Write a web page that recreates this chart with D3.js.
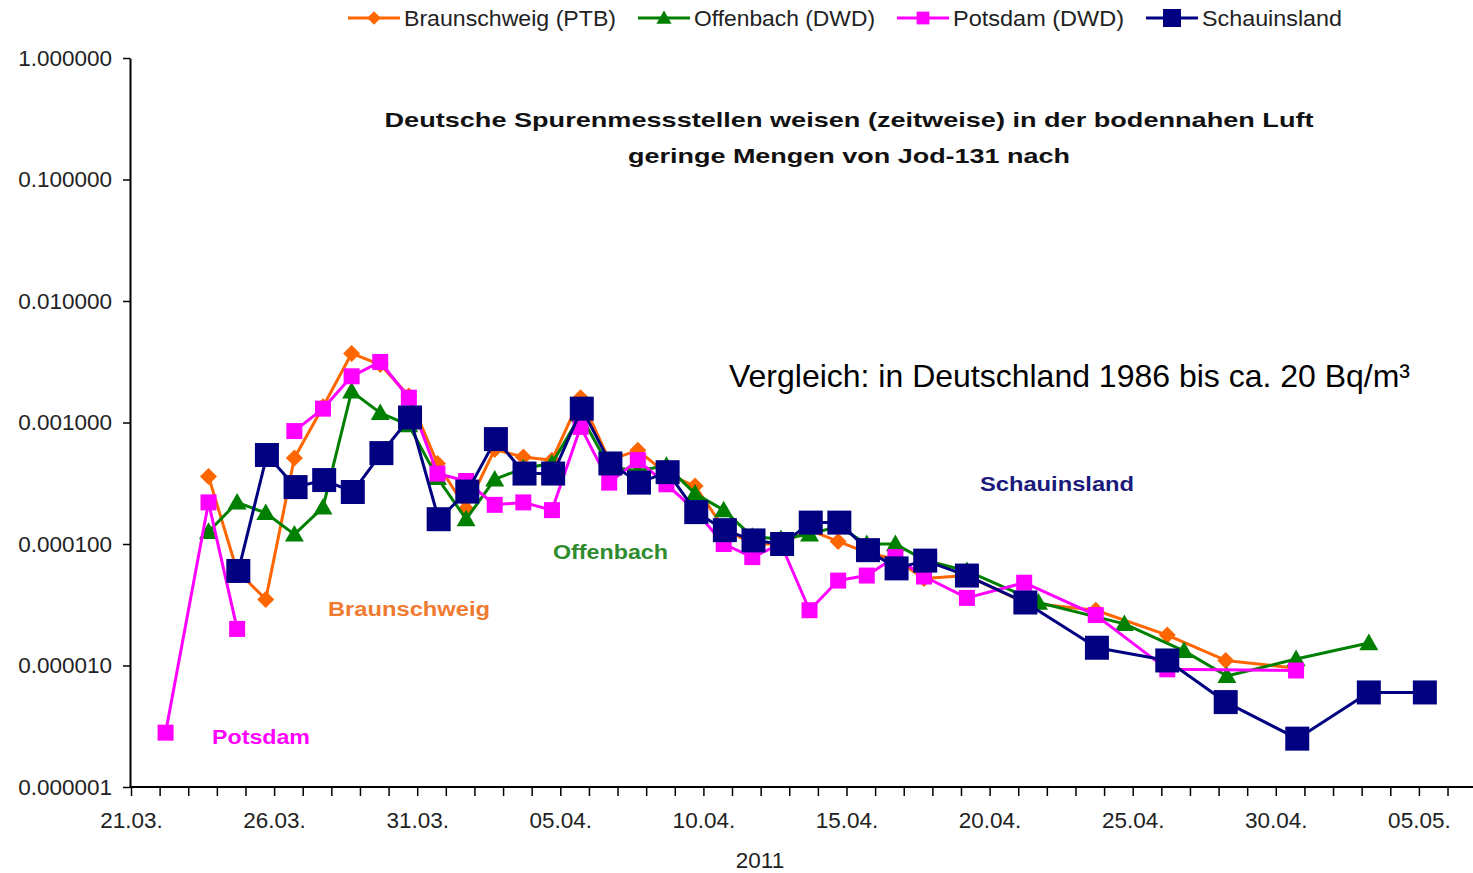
<!DOCTYPE html>
<html>
<head>
<meta charset="utf-8">
<title>Jod-131</title>
<script src="https://d3js.org/d3.v7.min.js"></script>
<style>
body { margin: 0; background: #fff; }
text { font-family: Arial, "Liberation Sans", sans-serif; }
</style>
</head>
<body>
<script>

var width = 1473
var height = 873

var names = ["Braunschweig (PTB)", "Offenbach (DWD)", "Potsdam (DWD)", "Schauinsland"]
var colors = ["#ff6600", "#008000", "#ff00ff", "#000080"]
var shapes = ["diamond", "triangle", "square", "bigsquare"]

var braunschweigDates = ["2011-03-23 17:00", "2011-03-24 17:00", "2011-03-25 17:00", "2011-03-26 17:00", "2011-03-27 17:00",
	"2011-03-28 17:00", "2011-03-29 17:00", "2011-03-30 17:00", "2011-03-31 17:00", "2011-04-01 17:00",
	"2011-04-02 17:00", "2011-04-03 17:00", "2011-04-04 17:00", "2011-04-05 17:00", "2011-04-06 17:00",
	"2011-04-07 17:00", "2011-04-08 17:00", "2011-04-09 17:00", "2011-04-10 17:00", "2011-04-11 17:00",
	"2011-04-12 17:00", "2011-04-13 17:00", "2011-04-14 17:00", "2011-04-15 17:00", "2011-04-16 17:00",
	"2011-04-17 17:00", "2011-04-19 05:00", "2011-04-21 05:00", "2011-04-23 17:00", "2011-04-26 05:00",
	"2011-04-28 06:00", "2011-04-30 17:00"]
var braunschweigValues = [3.6e-4, 6.0e-5, 3.5e-5, 5.1e-4, 1.35e-3,
	3.7e-3, 3.0e-3, 1.65e-3, 4.6e-4, 1.95e-4,
	6.0e-4, 5.2e-4, 4.9e-4, 1.6e-3, 4.9e-4,
	5.9e-4, 3.8e-4, 3.0e-4, 1.35e-4, 1.0e-4,
	1.0e-4, 1.3e-4, 1.05e-4, 8.5e-5, 7.5e-5,
	5.2e-5, 5.5e-5, 3.3e-5, 2.85e-5, 1.78e-5,
	1.1e-5, 9.5e-6]

var offenbachDates = ["2011-03-23 17:00", "2011-03-24 17:00", "2011-03-25 17:00", "2011-03-26 17:00", "2011-03-27 17:00",
	"2011-03-28 17:00", "2011-03-29 17:00", "2011-03-30 17:00", "2011-03-31 17:00", "2011-04-01 17:00",
	"2011-04-02 17:00", "2011-04-03 17:00", "2011-04-04 17:00", "2011-04-05 17:00", "2011-04-06 17:00",
	"2011-04-07 17:00", "2011-04-08 17:00", "2011-04-09 17:00", "2011-04-10 17:00", "2011-04-11 17:00",
	"2011-04-12 17:00", "2011-04-13 17:00", "2011-04-14 17:00", "2011-04-15 17:00", "2011-04-16 17:00",
	"2011-04-17 17:00", "2011-04-19 05:00", "2011-04-21 17:00", "2011-04-24 17:00", "2011-04-26 19:00",
	"2011-04-28 07:00", "2011-04-30 17:00", "2011-05-03 06:00"]
var offenbachValues = [1.26e-4, 2.2e-4, 1.8e-4, 1.2e-4, 2.0e-4,
	1.8e-3, 1.2e-3, 9.5e-4, 3.5e-4, 1.6e-4,
	3.4e-4, 4.2e-4, 4.6e-4, 1.15e-3, 4.3e-4,
	4.0e-4, 4.4e-4, 2.6e-4, 1.9e-4, 1.15e-4,
	1.1e-4, 1.2e-4, 1.4e-4, 1.0e-4, 1.0e-4,
	7.4e-5, 6.0e-5, 3.3e-5, 2.2e-5, 1.32e-5,
	8.2e-6, 1.13e-5, 1.53e-5]

var potsdamDates = ["2011-03-22 05:00", "2011-03-23 17:00", "2011-03-24 17:00", "2011-03-25 17:00", "2011-03-26 17:00",
	"2011-03-27 17:00", "2011-03-28 17:00", "2011-03-29 17:00", "2011-03-30 17:00", "2011-03-31 17:00",
	"2011-04-01 17:00", "2011-04-02 17:00", "2011-04-03 17:00", "2011-04-04 17:00", "2011-04-05 17:00",
	"2011-04-06 17:00", "2011-04-07 17:00", "2011-04-08 17:00", "2011-04-09 17:00", "2011-04-10 17:00",
	"2011-04-11 17:00", "2011-04-12 17:00", "2011-04-13 17:00", "2011-04-14 17:00", "2011-04-15 17:00",
	"2011-04-16 17:00", "2011-04-17 17:00", "2011-04-19 05:00", "2011-04-21 05:00", "2011-04-23 17:00",
	"2011-04-26 05:00", "2011-04-30 17:00"]
var potsdamValues = [2.8e-6, 2.2e-4, 2.0e-5, null, 8.5e-4,
	1.3e-3, 2.4e-3, 3.15e-3, 1.6e-3, 3.8e-4,
	3.3e-4, 2.1e-4, 2.2e-4, 1.9e-4, 9.2e-4,
	3.2e-4, 4.9e-4, 3.1e-4, 1.9e-4, 1.0e-4,
	7.8e-5, 1.0e-4, 2.85e-5, 5.0e-5, 5.5e-5,
	7.8e-5, 5.4e-5, 3.6e-5, 4.8e-5, 2.6e-5,
	9.3e-6, 9.1e-6]

var schauinslandDates = ["2011-03-24 18:00", "2011-03-25 18:00", "2011-03-26 18:00", "2011-03-27 18:00", "2011-03-28 18:00",
	"2011-03-29 18:00", "2011-03-30 18:00", "2011-03-31 18:00", "2011-04-01 18:00", "2011-04-02 18:00",
	"2011-04-03 18:00", "2011-04-04 18:00", "2011-04-05 18:00", "2011-04-06 18:00", "2011-04-07 18:00",
	"2011-04-08 18:00", "2011-04-09 18:00", "2011-04-10 18:00", "2011-04-11 18:00", "2011-04-12 18:00",
	"2011-04-13 18:00", "2011-04-14 18:00", "2011-04-15 18:00", "2011-04-16 18:00", "2011-04-17 18:00",
	"2011-04-19 05:00", "2011-04-21 06:00", "2011-04-23 18:00", "2011-04-26 05:00", "2011-04-28 06:00",
	"2011-04-30 18:00", "2011-05-03 06:00", "2011-05-05 05:00"]
var schauinslandValues = [6.0e-5, 5.4e-4, 2.94e-4, 3.36e-4, 2.68e-4,
	5.6e-4, 1.1e-3, 1.6e-4, 2.7e-4, 7.3e-4,
	3.8e-4, 3.8e-4, 1.3e-3, 4.6e-4, 3.2e-4,
	3.9e-4, 1.83e-4, 1.3e-4, 1.07e-4, 1.0e-4,
	1.5e-4, 1.5e-4, 8.9e-5, 6.3e-5, 7.3e-5,
	5.5e-5, 3.3e-5, 1.4e-5, 1.1e-5, 5.0e-6,
	2.5e-6, 6.0e-6, 6.0e-6]

var yTicks = [1, 0.1, 0.01, 0.001, 0.0001, 0.00001, 0.000001]
var xStart = "2011-03-21 00:00"
var xEnd = "2011-05-07 00:00"

var titleLines = ["Deutsche Spurenmessstellen weisen (zeitweise) in der bodennahen Luft", "geringe Mengen von Jod-131 nach"]
var comparisonText = "Vergleich: in Deutschland 1986 bis ca. 20 Bq/m³"
var labelNames = ["Braunschweig", "Offenbach", "Potsdam", "Schauinsland"]
var labelColors = ["#f07a30", "#2e8b2e", "#ff00ff", "#1a1a7a"]
var yearLabel = "2011"

var parse = d3.timeParse("%Y-%m-%d %H:%M")

var series = [
	{dates: braunschweigDates, values: braunschweigValues},
	{dates: offenbachDates, values: offenbachValues},
	{dates: potsdamDates, values: potsdamValues},
	{dates: schauinslandDates, values: schauinslandValues}
].map(function(s, i) {
	return {
		name: names[i], color: colors[i], shape: shapes[i],
		points: s.dates.map(function(d, j) { return {date: parse(d), value: s.values[j]} })
	}
})

var svg = d3.select("body").append("svg")
	.attr("width", width)
	.attr("height", height)

var x = d3.scaleTime()
	.domain([parse(xStart), parse(xEnd)])
	.range([131, 131 + 47 * 28.62])

var y = d3.scaleLog()
	.domain([0.000001, 1])
	.range([787, 58])

// shapes
function markerPath(shape) {
	var s
	if (shape == "diamond") { s = 8.5; return "M0," + (-s) + "L" + s + ",0L0," + s + "L" + (-s) + ",0Z" }
	if (shape == "triangle") { s = 9.5; return "M0," + (-s) + "L" + s + "," + (s * 0.75) + "L" + (-s) + "," + (s * 0.75) + "Z" }
	if (shape == "square") { s = 8; return "M" + (-s) + "," + (-s) + "h" + (2 * s) + "v" + (2 * s) + "h" + (-2 * s) + "Z" }
	s = 12
	return "M" + (-s) + "," + (-s) + "h" + (2 * s) + "v" + (2 * s) + "h" + (-2 * s) + "Z"
}

// axes
var days = d3.timeDay.range(parse(xStart), parse("2011-05-06 12:00"))
var fmt = d3.timeFormat("%d.%m.")

var xAxis = svg.append("g")
	.attr("transform", "translate(0,787)")
	.call(d3.axisBottom(x)
		.tickValues(days)
		.tickSize(9)
		.tickSizeOuter(0)
		.tickPadding(16)
		.tickFormat(function(d, i) { return i % 5 == 0 ? fmt(d) : "" }))
xAxis.select(".domain").attr("d", "M130,0H" + width).attr("stroke", "#000").attr("stroke-width", 2)
xAxis.selectAll(".tick line").attr("stroke", "#000").attr("stroke-width", 1.5)
xAxis.selectAll(".tick text").attr("font-size", 22.5).attr("fill", "#222")
	.attr("font-family", "Arial, 'Liberation Sans', sans-serif").attr("dy", "0.72em")

var yAxis = svg.append("g")
	.attr("transform", "translate(130,0)")
	.call(d3.axisLeft(y)
		.tickValues(yTicks)
		.tickSize(7)
		.tickSizeOuter(0)
		.tickPadding(11)
		.tickFormat(d3.format(".6f")))
yAxis.select(".domain").attr("stroke", "#000").attr("stroke-width", 2)
yAxis.selectAll(".tick line").attr("stroke", "#000").attr("stroke-width", 1.5)
yAxis.selectAll(".tick text").attr("font-size", 22.5).attr("fill", "#222")
	.attr("font-family", "Arial, 'Liberation Sans', sans-serif")

svg.append("text")
	.attr("x", 760).attr("y", 868)
	.attr("text-anchor", "middle")
	.attr("font-size", 22.5).attr("fill", "#222")
	.text(yearLabel)

// title
svg.selectAll(".title")
	.data(titleLines)
	.enter().append("text")
	.attr("class", "title")
	.attr("x", 849)
	.attr("y", function(d, i) { return 127 + i * 36 })
	.attr("text-anchor", "middle")
	.attr("font-family", "'DejaVu Sans', Verdana, sans-serif")
	.attr("font-weight", "bold")
	.attr("font-size", 21)
	.attr("textLength", function(d, i) { return i == 0 ? 929 : 442 })
	.attr("lengthAdjust", "spacingAndGlyphs")
	.attr("fill", "#111")
	.text(function(d) { return d })

svg.append("text")
	.attr("x", 729).attr("y", 387)
	.attr("font-size", 31.5)
	.attr("textLength", 681)
	.attr("lengthAdjust", "spacingAndGlyphs")
	.attr("fill", "#000")
	.text(comparisonText)

// lines + markers
var line = d3.line()
	.defined(function(d) { return d.value != null })
	.x(function(d) { return x(d.date) })
	.y(function(d) { return y(d.value) })

var groups = svg.selectAll(".series")
	.data(series)
	.enter().append("g")
	.attr("class", "series")

groups.append("path")
	.attr("d", function(d) { return line(d.points) })
	.attr("fill", "none")
	.attr("stroke", function(d) { return d.color })
	.attr("stroke-width", 3)
	.attr("stroke-linejoin", "round")

groups.each(function(s) {
	d3.select(this).selectAll(".marker")
		.data(s.points.filter(function(p) { return p.value != null }))
		.enter().append("path")
		.attr("class", "marker")
		.attr("transform", function(p) { return "translate(" + x(p.date) + "," + y(p.value) + ")" })
		.attr("d", markerPath(s.shape))
		.attr("fill", s.color)
})

// labels in plot
var labelPos = [[328, 616, 162], [553, 559, 115], [212, 744, 98], [980, 491, 154]]
svg.selectAll(".seriesLabel")
	.data(labelNames)
	.enter().append("text")
	.attr("class", "seriesLabel")
	.attr("x", function(d, i) { return labelPos[i][0] })
	.attr("y", function(d, i) { return labelPos[i][1] })
	.attr("textLength", function(d, i) { return labelPos[i][2] })
	.attr("lengthAdjust", "spacingAndGlyphs")
	.attr("font-family", "'DejaVu Sans', Verdana, sans-serif")
	.attr("font-weight", "bold")
	.attr("font-size", 20)
	.attr("fill", function(d, i) { return labelColors[i] })
	.text(function(d) { return d })

// legend
var legendWidths = [212, 181, 171, 140]
var legend = svg.append("g").attr("class", "legend")
var lx = 348
series.forEach(function(s, i) {
	var g = legend.append("g").attr("transform", "translate(" + lx + ",18)")
	g.append("line").attr("x1", 0).attr("x2", 52).attr("stroke", s.color).attr("stroke-width", 3)
	g.append("path").attr("transform", "translate(26,0) scale(" + (s.shape == "bigsquare" ? 0.75 : 0.8) + ")")
		.attr("d", markerPath(s.shape)).attr("fill", s.color)
	g.append("text").attr("x", 56).attr("y", 0).attr("dy", "0.36em")
		.attr("font-size", 22.5).attr("fill", "#222")
		.attr("textLength", legendWidths[i]).attr("lengthAdjust", "spacingAndGlyphs")
		.text(s.name)
	lx += 56 + legendWidths[i] + 22
})

</script>
</body>
</html>
